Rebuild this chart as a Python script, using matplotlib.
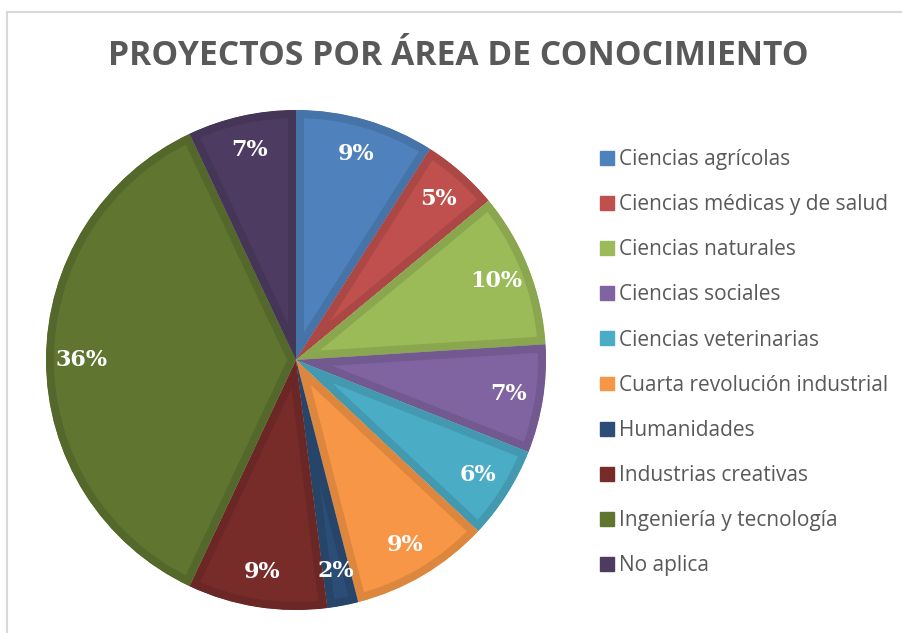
import matplotlib.pyplot as plt
from matplotlib.lines import Line2D
from matplotlib.colors import to_rgb

categorias = ['Ciencias agrícolas', 'Ciencias médicas y de salud', 'Ciencias naturales',
              'Ciencias sociales', 'Ciencias veterinarias', 'Cuarta revolución industrial',
              'Humanidades', 'Industrias creativas', 'Ingeniería y tecnología', 'No aplica']
porcentajes = [9, 5, 10, 7, 6, 9, 2, 9, 36, 7]
colores = ['#4F81BD', '#C0504D', '#9BBB59', '#8064A2', '#4BACC6',
           '#F79646', '#2C4D75', '#772C2A', '#5F7530', '#4D3B62']

bordes = [tuple(c * 0.89 for c in to_rgb(col)) for col in colores]

W, H = 902, 633
fig = plt.figure(figsize=(W / 100, H / 100), dpi=100)

# pie centre (296, 360) px from top, radius 250 px
cx, cy, R = 296, 360, 250
half = 265
ax = fig.add_axes([(cx - half) / W, (H - cy - half) / H, 2 * half / W, 2 * half / H])
lim = half / R

wedges, textos, autotextos = ax.pie(
    porcentajes, colors=colores, startangle=90, counterclock=False,
    radius=1, autopct='%1.0f%%', pctdistance=0.86,
    wedgeprops=dict(linewidth=11.5, joinstyle='miter'),
    textprops=dict(color='white', fontsize=16, fontweight='bold', family='DejaVu Serif'),
    frame=True)
ax.set_xlim(-lim, lim)
ax.set_ylim(-lim, lim)
ax.axis('off')
# inner border only: clip each wedge's stroke to its own shape
for w, b in zip(wedges, bordes):
    w.set_edgecolor(b)
    w.set_clip_on(True)
    w.set_clip_path(w)

fig.text(458 / W, 1 - 56 / H, 'PROYECTOS POR ÁREA DE CONOCIMIENTO', ha='center', va='center',
         fontsize=24.2, fontweight='bold', color='#595959', family='Open Sans')

handles = [plt.Rectangle((0, 0), 1, 1, color=c) for c in colores]
fig.legend(handles, categorias, loc='upper left', bbox_to_anchor=(600 / W, 1 - 149 / H),
           frameon=False, labelcolor='#595959', labelspacing=1.16,
           handlelength=0.65, handleheight=0.65, handletextpad=0.25, borderpad=0,
           borderaxespad=0, prop=dict(family='Open Sans', size=15))

fig.add_artist(Line2D([7 / W, 7 / W], [0, 1 - 12 / H], color='#D9D9D9', linewidth=1.5))
fig.add_artist(Line2D([7 / W, 1], [1 - 12 / H, 1 - 12 / H], color='#D9D9D9', linewidth=1.5))

fig.savefig('out.png', dpi=100, facecolor='white')
